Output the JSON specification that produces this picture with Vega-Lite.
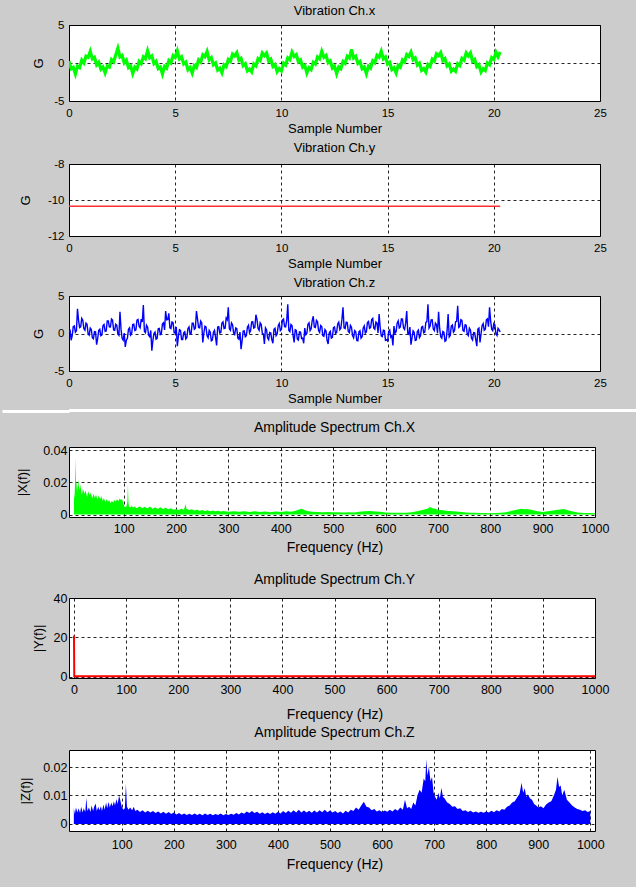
{
"$schema": "https://vega.github.io/schema/vega-lite/v6.json",
"background": "#cccccc",
"padding": {"left": 0, "top": 4, "right": 0, "bottom": 15},
"spacing": 0,
"config": {
 "font": "Liberation Sans",
 "locale": {"number": {"decimal": ".", "thousands": ",", "grouping": [3], "currency": ["$", ""], "minus": "-"}},
 "view": {"stroke": "#000000", "strokeWidth": 1, "fill": "#ffffff"},
 "axis": {"grid": true, "gridColor": "#000000", "gridDash": [3, 3], "gridWidth": 1, "gridOpacity": 0.85, "domain": false, "tickColor": "transparent", "labelColor": "#000000", "titleColor": "#000000", "labelFontSize": 11.5, "titleFontSize": 13, "titleFontWeight": "normal", "labelFlush": false, "labelOverlap": false, "titlePadding": 0},
 "axisX": {"titleBaseline": "top"},
 "axisY": {"titleBaseline": "middle", "titleAngle": -90, "titleAlign": "center"},
 "title": {"fontWeight": "normal", "color": "#000000", "frame": "group"}
},
"datasets": {
 "vx": [{"t":0.0,"g":0.24},{"t":0.1,"g":-0.76},{"t":0.2,"g":-0.57},{"t":0.3,"g":-1.46},{"t":0.4,"g":-0.41},{"t":0.5,"g":-0.61},{"t":0.6,"g":0.39},{"t":0.7,"g":0.0},{"t":0.8,"g":0.9},{"t":0.9,"g":0.75},{"t":1.0,"g":1.54},{"t":1.1,"g":0.54},{"t":1.2,"g":0.74},{"t":1.3,"g":-0.26},{"t":1.4,"g":0.08},{"t":1.5,"g":-0.82},{"t":1.6,"g":-0.52},{"t":1.7,"g":-1.31},{"t":1.8,"g":-0.41},{"t":1.9,"g":-0.55},{"t":2.0,"g":0.45},{"t":2.1,"g":0.15},{"t":2.2,"g":1.06},{"t":2.3,"g":1.95},{"t":2.4,"g":0.79},{"t":2.5,"g":0.99},{"t":2.6,"g":0.03},{"t":2.7,"g":0.38},{"t":2.8,"g":-0.62},{"t":2.9,"g":-0.38},{"t":3.0,"g":-1.38},{"t":3.1,"g":-0.55},{"t":3.2,"g":-0.8},{"t":3.3,"g":0.2},{"t":3.4,"g":-0.09},{"t":3.5,"g":0.81},{"t":3.6,"g":0.56},{"t":3.7,"g":1.62},{"t":3.8,"g":0.68},{"t":3.9,"g":0.93},{"t":4.0,"g":-0.07},{"t":4.1,"g":0.22},{"t":4.2,"g":-0.73},{"t":4.3,"g":-0.53},{"t":4.4,"g":-1.45},{"t":4.5,"g":-0.45},{"t":4.6,"g":-0.69},{"t":4.7,"g":0.31},{"t":4.8,"g":0.01},{"t":4.9,"g":0.97},{"t":5.0,"g":0.72},{"t":5.1,"g":1.58},{"t":5.2,"g":0.53},{"t":5.3,"g":0.82},{"t":5.4,"g":-0.13},{"t":5.5,"g":0.12},{"t":5.6,"g":-0.89},{"t":5.7,"g":-0.59},{"t":5.8,"g":-1.34},{"t":5.9,"g":-0.34},{"t":6.0,"g":-0.59},{"t":6.1,"g":0.41},{"t":6.2,"g":0.12},{"t":6.3,"g":1.07},{"t":6.4,"g":0.82},{"t":6.5,"g":1.52},{"t":6.6,"g":0.42},{"t":6.7,"g":0.72},{"t":6.8,"g":-0.24},{"t":6.9,"g":0.01},{"t":7.0,"g":-0.94},{"t":7.1,"g":-0.69},{"t":7.2,"g":-1.29},{"t":7.3,"g":-0.24},{"t":7.4,"g":-0.48},{"t":7.5,"g":0.47},{"t":7.6,"g":0.22},{"t":7.7,"g":1.18},{"t":7.8,"g":0.93},{"t":7.9,"g":1.37},{"t":8.0,"g":0.37},{"t":8.1,"g":0.61},{"t":8.2,"g":-0.34},{"t":8.3,"g":-0.09},{"t":8.4,"g":-1.05},{"t":8.5,"g":-0.8},{"t":8.6,"g":-1.18},{"t":8.7,"g":-0.13},{"t":8.8,"g":-0.38},{"t":8.9,"g":0.58},{"t":9.0,"g":0.33},{"t":9.1,"g":1.33},{"t":9.2,"g":0.97},{"t":9.3,"g":1.31},{"t":9.4,"g":0.26},{"t":9.5,"g":0.51},{"t":9.6,"g":-0.45},{"t":9.7,"g":-0.2},{"t":9.8,"g":-1.15},{"t":9.9,"g":-0.73},{"t":10.0,"g":-1.03},{"t":10.1,"g":-0.02},{"t":10.2,"g":-0.27},{"t":10.3,"g":0.68},{"t":10.4,"g":0.44},{"t":10.5,"g":1.44},{"t":10.6,"g":0.86},{"t":10.7,"g":1.11},{"t":10.8,"g":0.15},{"t":10.9,"g":0.4},{"t":11.0,"g":-0.55},{"t":11.1,"g":-0.31},{"t":11.2,"g":-1.31},{"t":11.3,"g":-0.62},{"t":11.4,"g":-0.87},{"t":11.5,"g":0.08},{"t":11.6,"g":-0.16},{"t":11.7,"g":0.79},{"t":11.8,"g":0.54},{"t":11.9,"g":1.54},{"t":12.0,"g":0.75},{"t":12.1,"g":1.0},{"t":12.2,"g":0.05},{"t":12.3,"g":0.29},{"t":12.4,"g":-0.66},{"t":12.5,"g":-0.41},{"t":12.6,"g":-1.41},{"t":12.7,"g":-0.52},{"t":12.8,"g":-0.76},{"t":12.9,"g":0.19},{"t":13.0,"g":-0.06},{"t":13.1,"g":0.89},{"t":13.2,"g":0.65},{"t":13.3,"g":1.8},{"t":13.4,"g":0.65},{"t":13.5,"g":0.89},{"t":13.6,"g":-0.06},{"t":13.7,"g":0.19},{"t":13.8,"g":-0.76},{"t":13.9,"g":-0.52},{"t":14.0,"g":-1.41},{"t":14.1,"g":-0.41},{"t":14.2,"g":-0.66},{"t":14.3,"g":0.29},{"t":14.4,"g":0.05},{"t":14.5,"g":1.0},{"t":14.6,"g":0.75},{"t":14.7,"g":1.54},{"t":14.8,"g":0.54},{"t":14.9,"g":0.79},{"t":15.0,"g":-0.16},{"t":15.1,"g":0.08},{"t":15.2,"g":-0.87},{"t":15.3,"g":-0.62},{"t":15.4,"g":-1.31},{"t":15.5,"g":-0.31},{"t":15.6,"g":-0.55},{"t":15.7,"g":0.4},{"t":15.8,"g":0.15},{"t":15.9,"g":1.11},{"t":16.0,"g":0.86},{"t":16.1,"g":1.44},{"t":16.2,"g":0.44},{"t":16.3,"g":0.68},{"t":16.4,"g":-0.27},{"t":16.5,"g":-0.02},{"t":16.6,"g":-0.98},{"t":16.7,"g":-0.73},{"t":16.8,"g":-1.2},{"t":16.9,"g":-0.2},{"t":17.0,"g":-0.45},{"t":17.1,"g":0.51},{"t":17.2,"g":0.26},{"t":17.3,"g":1.21},{"t":17.4,"g":0.97},{"t":17.5,"g":1.38},{"t":17.6,"g":0.33},{"t":17.7,"g":0.58},{"t":17.8,"g":-0.38},{"t":17.9,"g":-0.13},{"t":18.0,"g":-1.08},{"t":18.1,"g":-0.8},{"t":18.2,"g":-1.1},{"t":18.3,"g":-0.09},{"t":18.4,"g":-0.34},{"t":18.5,"g":0.61},{"t":18.6,"g":0.37},{"t":18.7,"g":1.32},{"t":18.8,"g":0.93},{"t":18.9,"g":1.33},{"t":19.0,"g":0.22},{"t":19.1,"g":0.47},{"t":19.2,"g":-0.48},{"t":19.3,"g":-0.24},{"t":19.4,"g":-1.19},{"t":19.5,"g":-0.74},{"t":19.6,"g":-0.99},{"t":19.7,"g":0.01},{"t":19.8,"g":-0.24},{"t":19.9,"g":0.72},{"t":20.0,"g":0.47},{"t":20.1,"g":1.42},{"t":20.2,"g":0.82},{"t":20.3,"g":1.45}],
 "vy": [{"t":0,"g":-10.35},{"t":20.3,"g":-10.35}],
 "vz": [{"t":0.0,"g":0.12},{"t":0.1,"g":-0.9},{"t":0.2,"g":0.91},{"t":0.3,"g":0.16},{"t":0.4,"g":3.3},{"t":0.5,"g":0.79},{"t":0.6,"g":2.01},{"t":0.7,"g":0.62},{"t":0.8,"g":1.38},{"t":0.9,"g":-0.07},{"t":1.0,"g":0.73},{"t":1.1,"g":-0.56},{"t":1.2,"g":0.25},{"t":1.3,"g":-1.5},{"t":1.4,"g":0.41},{"t":1.5,"g":-0.29},{"t":1.6,"g":1.05},{"t":1.7,"g":0.29},{"t":1.8,"g":1.69},{"t":1.9,"g":0.88},{"t":2.0,"g":1.93},{"t":2.1,"g":0.48},{"t":2.2,"g":1.23},{"t":2.3,"g":-0.06},{"t":2.4,"g":2.9},{"t":2.5,"g":-0.65},{"t":2.6,"g":0.06},{"t":2.7,"g":-0.89},{"t":2.8,"g":0.55},{"t":2.9,"g":-0.21},{"t":3.0,"g":1.19},{"t":3.1,"g":0.38},{"t":3.2,"g":1.78},{"t":3.3,"g":0.98},{"t":3.4,"g":1.93},{"t":3.5,"g":3.8},{"t":3.6,"g":0.1},{"t":3.7,"g":0.85},{"t":3.8,"g":-0.44},{"t":3.9,"g":-2.3},{"t":4.0,"g":0.0},{"t":4.1,"g":-0.76},{"t":4.2,"g":0.64},{"t":4.3,"g":-0.12},{"t":4.4,"g":1.28},{"t":4.5,"g":0.47},{"t":4.6,"g":1.82},{"t":4.7,"g":2.7},{"t":4.8,"g":0.65},{"t":4.9,"g":1.45},{"t":5.0,"g":0.06},{"t":5.1,"g":-1.7},{"t":5.2,"g":0.52},{"t":5.3,"g":-0.82},{"t":5.4,"g":0.09},{"t":5.5,"g":-0.72},{"t":5.6,"g":0.68},{"t":5.7,"g":-0.08},{"t":5.8,"g":1.37},{"t":5.9,"g":0.56},{"t":6.0,"g":3.0},{"t":6.1,"g":0.8},{"t":6.2,"g":1.66},{"t":6.3,"g":-1.2},{"t":6.4,"g":0.97},{"t":6.5,"g":-0.32},{"t":6.6,"g":0.43},{"t":6.7,"g":-0.96},{"t":6.8,"g":0.18},{"t":6.9,"g":-0.53},{"t":7.0,"g":0.87},{"t":7.1,"g":0.06},{"t":7.2,"g":1.4},{"t":7.3,"g":0.65},{"t":7.4,"g":2.04},{"t":7.5,"g":3.5},{"t":7.6,"g":0.42},{"t":7.7,"g":1.18},{"t":7.8,"g":-0.12},{"t":7.9,"g":0.64},{"t":8.0,"g":-0.76},{"t":8.1,"g":-2.1},{"t":8.2,"g":0.32},{"t":8.3,"g":-0.44},{"t":8.4,"g":0.85},{"t":8.5,"g":0.1},{"t":8.6,"g":1.54},{"t":8.7,"g":0.73},{"t":8.8,"g":2.5},{"t":8.9,"g":0.68},{"t":9.0,"g":1.43},{"t":9.1,"g":0.04},{"t":9.2,"g":-1.4},{"t":9.3,"g":0.5},{"t":9.4,"g":-0.84},{"t":9.5,"g":0.06},{"t":9.6,"g":-1.3},{"t":9.7,"g":0.7},{"t":9.8,"g":-0.06},{"t":9.9,"g":1.33},{"t":10.0,"g":0.53},{"t":10.1,"g":1.93},{"t":10.2,"g":0.88},{"t":10.3,"g":3.9},{"t":10.4,"g":0.24},{"t":10.5,"g":1.05},{"t":10.6,"g":-1.2},{"t":10.7,"g":0.41},{"t":10.8,"g":-0.88},{"t":10.9,"g":0.2},{"t":11.0,"g":-0.61},{"t":11.1,"g":0.73},{"t":11.2,"g":0.03},{"t":11.3,"g":1.43},{"t":11.4,"g":0.62},{"t":11.5,"g":2.3},{"t":11.6,"g":0.79},{"t":11.7,"g":1.55},{"t":11.8,"g":0.16},{"t":11.9,"g":0.91},{"t":12.0,"g":-0.38},{"t":12.1,"g":0.32},{"t":12.2,"g":-1.4},{"t":12.3,"g":0.28},{"t":12.4,"g":-0.52},{"t":12.5,"g":0.88},{"t":12.6,"g":0.12},{"t":12.7,"g":1.51},{"t":12.8,"g":0.71},{"t":12.9,"g":3.5},{"t":13.0,"g":0.66},{"t":13.1,"g":1.46},{"t":13.2,"g":0.12},{"t":13.3,"g":0.83},{"t":13.4,"g":-0.57},{"t":13.5,"g":0.23},{"t":13.6,"g":-0.97},{"t":13.7,"g":0.37},{"t":13.8,"g":-0.43},{"t":13.9,"g":1.01},{"t":14.0,"g":0.21},{"t":14.1,"g":1.6},{"t":14.2,"g":0.79},{"t":14.3,"g":2.01},{"t":14.4,"g":0.57},{"t":14.5,"g":1.38},{"t":14.6,"g":2.6},{"t":14.7,"g":-0.32},{"t":14.8,"g":0.44},{"t":14.9,"g":-0.9},{"t":15.0,"g":-1.0},{"t":15.1,"g":0.46},{"t":15.2,"g":-0.29},{"t":15.3,"g":1.0},{"t":15.4,"g":0.24},{"t":15.5,"g":1.69},{"t":15.6,"g":0.88},{"t":15.7,"g":1.93},{"t":15.8,"g":0.53},{"t":15.9,"g":3.0},{"t":16.0,"g":-0.11},{"t":16.1,"g":-1.5},{"t":16.2,"g":0.35},{"t":16.3,"g":-0.94},{"t":16.4,"g":0.26},{"t":16.5,"g":-0.55},{"t":16.6,"g":0.84},{"t":16.7,"g":0.09},{"t":16.8,"g":1.48},{"t":16.9,"g":3.9},{"t":17.0,"g":0.98},{"t":17.1,"g":1.83},{"t":17.2,"g":0.39},{"t":17.3,"g":1.2},{"t":17.4,"g":2.9},{"t":17.5,"g":-0.44},{"t":17.6,"g":0.27},{"t":17.7,"g":-1.05},{"t":17.8,"g":0.34},{"t":17.9,"g":-0.46},{"t":18.0,"g":0.98},{"t":18.1,"g":0.18},{"t":18.2,"g":1.57},{"t":18.3,"g":3.7},{"t":18.4,"g":0.94},{"t":18.5,"g":1.75},{"t":18.6,"g":0.3},{"t":18.7,"g":1.11},{"t":18.8,"g":-0.28},{"t":18.9,"g":0.47},{"t":19.0,"g":-0.87},{"t":19.1,"g":0.09},{"t":19.2,"g":-1.7},{"t":19.3,"g":0.73},{"t":19.4,"g":-0.03},{"t":19.5,"g":1.32},{"t":19.6,"g":0.56},{"t":19.7,"g":1.95},{"t":19.8,"g":3.5},{"t":19.9,"g":0.56},{"t":20.0,"g":1.32},{"t":20.1,"g":-0.03},{"t":20.2,"g":0.68},{"t":20.3,"g":0.2},
  {"t":0.05,"g":0.52},{"t":0.15,"g":-0.33},{"t":0.25,"g":1.01},{"t":0.35,"g":0.36},{"t":0.45,"g":1.75},{"t":0.55,"g":0.9},{"t":0.65,"g":1.77},{"t":0.75,"g":0.43},{"t":0.85,"g":1.23},{"t":0.95,"g":-0.22},{"t":1.05,"g":0.54},{"t":1.15,"g":-0.71},{"t":1.25,"g":0.23},{"t":1.35,"g":-0.69},{"t":1.45,"g":0.56},{"t":1.55,"g":-0.19},{"t":1.65,"g":1.2},{"t":1.75,"g":0.34},{"t":1.85,"g":1.69},{"t":1.95,"g":0.86},{"t":2.05,"g":1.78},{"t":2.15,"g":0.43},{"t":2.25,"g":1.09},{"t":2.35,"g":-0.25},{"t":2.45,"g":0.55},{"t":2.55,"g":-0.9},{"t":2.65,"g":-1.8},{"t":2.75,"g":-0.65},{"t":2.85,"g":0.75},{"t":2.95,"g":-0.01},{"t":3.05,"g":1.24},{"t":3.15,"g":0.48},{"t":3.25,"g":1.88},{"t":3.35,"g":0.76},{"t":3.45,"g":1.54},{"t":3.55,"g":0.3},{"t":3.65,"g":1.1},{"t":3.75,"g":-0.24},{"t":3.85,"g":0.41},{"t":3.95,"g":-0.92},{"t":4.05,"g":0.19},{"t":4.15,"g":-0.66},{"t":4.25,"g":0.69},{"t":4.35,"g":0.03},{"t":4.45,"g":1.43},{"t":4.55,"g":3.0},{"t":4.65,"g":1.86},{"t":4.75,"g":0.75},{"t":4.85,"g":1.55},{"t":4.95,"g":0.11},{"t":5.05,"g":0.87},{"t":5.15,"g":-0.38},{"t":5.25,"g":0.42},{"t":5.35,"g":-0.82},{"t":5.45,"g":0.23},{"t":5.55,"g":-0.52},{"t":5.65,"g":0.88},{"t":5.75,"g":0.02},{"t":5.85,"g":1.37},{"t":5.95,"g":0.71},{"t":6.05,"g":1.95},{"t":6.15,"g":0.76},{"t":6.25,"g":1.42},{"t":6.35,"g":0.07},{"t":6.45,"g":0.88},{"t":6.55,"g":-0.57},{"t":6.65,"g":0.18},{"t":6.75,"g":-0.87},{"t":6.85,"g":0.42},{"t":6.95,"g":-1.6},{"t":7.05,"g":0.92},{"t":7.15,"g":0.16},{"t":7.25,"g":1.55},{"t":7.35,"g":0.7},{"t":7.45,"g":1.81},{"t":7.55,"g":0.62},{"t":7.65,"g":1.43},{"t":7.75,"g":0.08},{"t":7.85,"g":0.74},{"t":7.95,"g":-0.61},{"t":8.05,"g":0.19},{"t":8.15,"g":-0.97},{"t":8.25,"g":0.36},{"t":8.35,"g":-0.29},{"t":8.45,"g":1.1},{"t":8.55,"g":0.35},{"t":8.65,"g":1.59},{"t":8.75,"g":0.81},{"t":8.85,"g":1.88},{"t":8.95,"g":0.43},{"t":9.05,"g":1.19},{"t":9.15,"g":-0.06},{"t":9.25,"g":0.75},{"t":9.35,"g":-0.6},{"t":9.45,"g":0.13},{"t":9.55,"g":-0.85},{"t":9.65,"g":0.55},{"t":9.75,"g":-0.3},{"t":9.85,"g":1.04},{"t":9.95,"g":0.38},{"t":10.05,"g":1.78},{"t":10.15,"g":0.91},{"t":10.25,"g":1.74},{"t":10.35,"g":0.39},{"t":10.45,"g":1.2},{"t":10.55,"g":-0.24},{"t":10.65,"g":0.51},{"t":10.75,"g":-0.74},{"t":10.85,"g":0.23},{"t":10.95,"g":-0.66},{"t":11.05,"g":-1.3},{"t":11.15,"g":-0.17},{"t":11.25,"g":1.23},{"t":11.35,"g":0.38},{"t":11.45,"g":1.72},{"t":11.55,"g":0.85},{"t":11.65,"g":1.75},{"t":11.75,"g":0.41},{"t":11.85,"g":1.06},{"t":11.95,"g":-0.28},{"t":12.05,"g":0.52},{"t":12.15,"g":-0.93},{"t":12.25,"g":0.08},{"t":12.35,"g":-0.62},{"t":12.45,"g":0.78},{"t":12.55,"g":0.03},{"t":12.65,"g":1.27},{"t":12.75,"g":0.51},{"t":12.85,"g":1.91},{"t":12.95,"g":0.76},{"t":13.05,"g":1.51},{"t":13.15,"g":0.27},{"t":13.25,"g":1.08},{"t":13.35,"g":-0.27},{"t":13.45,"g":0.38},{"t":13.55,"g":-0.92},{"t":13.65,"g":0.22},{"t":13.75,"g":-0.63},{"t":13.85,"g":0.72},{"t":13.95,"g":0.06},{"t":14.05,"g":1.46},{"t":14.15,"g":0.7},{"t":14.25,"g":1.85},{"t":14.35,"g":0.72},{"t":14.45,"g":1.53},{"t":14.55,"g":0.08},{"t":14.65,"g":0.83},{"t":14.75,"g":-0.41},{"t":14.85,"g":0.39},{"t":14.95,"g":-0.82},{"t":15.05,"g":0.26},{"t":15.15,"g":-0.49},{"t":15.25,"g":-1.6},{"t":15.35,"g":0.05},{"t":15.45,"g":1.39},{"t":15.55,"g":0.74},{"t":15.65,"g":1.96},{"t":15.75,"g":0.73},{"t":15.85,"g":1.38},{"t":15.95,"g":0.04},{"t":16.05,"g":0.85},{"t":16.15,"g":-0.6},{"t":16.25,"g":0.15},{"t":16.35,"g":-0.87},{"t":16.45,"g":0.45},{"t":16.55,"g":-0.3},{"t":16.65,"g":0.94},{"t":16.75,"g":0.19},{"t":16.85,"g":1.58},{"t":16.95,"g":0.73},{"t":17.05,"g":1.81},{"t":17.15,"g":0.59},{"t":17.25,"g":1.4},{"t":17.35,"g":0.05},{"t":17.45,"g":0.71},{"t":17.55,"g":-0.64},{"t":17.65,"g":0.18},{"t":17.75,"g":-0.96},{"t":17.85,"g":2.6},{"t":17.95,"g":-0.26},{"t":18.05,"g":1.13},{"t":18.15,"g":0.38},{"t":18.25,"g":1.62},{"t":18.35,"g":0.81},{"t":18.45,"g":1.85},{"t":18.55,"g":0.4},{"t":18.65,"g":1.16},{"t":18.75,"g":-0.08},{"t":18.85,"g":0.72},{"t":18.95,"g":-0.63},{"t":19.05,"g":0.13},{"t":19.15,"g":-0.82},{"t":19.25,"g":0.58},{"t":19.35,"g":-1.2},{"t":19.45,"g":1.07},{"t":19.55,"g":0.42},{"t":19.65,"g":1.81},{"t":19.75,"g":0.9},{"t":19.85,"g":1.71},{"t":19.95,"g":0.37},{"t":20.05,"g":1.17},{"t":20.15,"g":-0.27},{"t":20.25,"g":0.48}],
 "sx": [{"f":5,"a":0.0125},{"f":6,"a":0.01},{"f":7,"a":0.02},{"f":8,"a":0.0352},{"f":9,"a":0.015},{"f":10,"a":0.021},{"f":12,"a":0.014},{"f":13,"a":0.022},{"f":15,"a":0.015},{"f":17,"a":0.0185},{"f":20,"a":0.012},{"f":22,"a":0.016},{"f":25,"a":0.013},{"f":27,"a":0.015},{"f":30,"a":0.011},{"f":32,"a":0.0145},{"f":35,"a":0.012},{"f":37,"a":0.0135},{"f":40,"a":0.01},{"f":42,"a":0.013},{"f":45,"a":0.0105},{"f":47,"a":0.0125},{"f":50,"a":0.009},{"f":52,"a":0.012},{"f":55,"a":0.0095},{"f":57,"a":0.0115},{"f":60,"a":0.0085},{"f":62,"a":0.0105},{"f":65,"a":0.0075},{"f":67,"a":0.0095},{"f":70,"a":0.008},{"f":72,"a":0.009},{"f":75,"a":0.007},{"f":77,"a":0.0085},{"f":80,"a":0.0075},{"f":82,"a":0.009},{"f":85,"a":0.008},{"f":87,"a":0.0095},{"f":90,"a":0.0085},{"f":92,"a":0.01},{"f":95,"a":0.009},{"f":97,"a":0.0095},{"f":100,"a":0.006},{"f":102,"a":0.0045},{"f":105,"a":0.005},{"f":107,"a":0.008},{"f":108,"a":0.019},{"f":109,"a":0.008},{"f":110,"a":0.005},{"f":113,"a":0.0045},{"f":115,"a":0.0055},{"f":118,"a":0.0042},{"f":120,"a":0.005},{"f":125,"a":0.004},{"f":130,"a":0.0052},{"f":135,"a":0.004},{"f":140,"a":0.0048},{"f":145,"a":0.0038},{"f":150,"a":0.005},{"f":155,"a":0.0037},{"f":160,"a":0.0045},{"f":165,"a":0.0035},{"f":170,"a":0.0046},{"f":175,"a":0.0034},{"f":180,"a":0.0042},{"f":185,"a":0.0033},{"f":190,"a":0.004},{"f":195,"a":0.003},{"f":200,"a":0.0035},{"f":205,"a":0.0028},{"f":210,"a":0.0036},{"f":215,"a":0.003},{"f":218,"a":0.0065},{"f":220,"a":0.0035},{"f":225,"a":0.0028},{"f":230,"a":0.0033},{"f":235,"a":0.0025},{"f":240,"a":0.003},{"f":245,"a":0.0024},{"f":250,"a":0.0029},{"f":255,"a":0.0022},{"f":260,"a":0.0027},{"f":265,"a":0.0021},{"f":270,"a":0.0026},{"f":275,"a":0.002},{"f":280,"a":0.0024},{"f":285,"a":0.0019},{"f":290,"a":0.0023},{"f":300,"a":0.0018},{"f":310,"a":0.0021},{"f":320,"a":0.0017},{"f":330,"a":0.002},{"f":340,"a":0.0016},{"f":350,"a":0.002},{"f":360,"a":0.0016},{"f":370,"a":0.0019},{"f":380,"a":0.0015},{"f":390,"a":0.0019},{"f":400,"a":0.0016},{"f":410,"a":0.002},{"f":420,"a":0.0018},{"f":430,"a":0.0026},{"f":435,"a":0.0032},{"f":440,"a":0.0037},{"f":445,"a":0.0028},{"f":450,"a":0.0022},{"f":460,"a":0.0017},{"f":470,"a":0.0016},{"f":480,"a":0.0015},{"f":490,"a":0.0016},{"f":500,"a":0.0014},{"f":510,"a":0.0015},{"f":520,"a":0.0013},{"f":530,"a":0.0014},{"f":540,"a":0.0013},{"f":550,"a":0.0017},{"f":560,"a":0.002},{"f":570,"a":0.0022},{"f":580,"a":0.0019},{"f":590,"a":0.0018},{"f":600,"a":0.0013},{"f":610,"a":0.0012},{"f":620,"a":0.0011},{"f":630,"a":0.0012},{"f":640,"a":0.0012},{"f":650,"a":0.0015},{"f":660,"a":0.002},{"f":670,"a":0.0028},{"f":680,"a":0.0037},{"f":685,"a":0.0047},{"f":690,"a":0.004},{"f":695,"a":0.0036},{"f":700,"a":0.003},{"f":710,"a":0.0027},{"f":720,"a":0.0022},{"f":730,"a":0.002},{"f":740,"a":0.0017},{"f":750,"a":0.0014},{"f":760,"a":0.0012},{"f":770,"a":0.0011},{"f":780,"a":0.001},{"f":790,"a":0.001},{"f":800,"a":0.0009},{"f":810,"a":0.001},{"f":820,"a":0.0012},{"f":830,"a":0.0015},{"f":840,"a":0.0022},{"f":850,"a":0.003},{"f":860,"a":0.0036},{"f":865,"a":0.0033},{"f":870,"a":0.0035},{"f":880,"a":0.0028},{"f":890,"a":0.002},{"f":900,"a":0.0016},{"f":910,"a":0.002},{"f":920,"a":0.0025},{"f":930,"a":0.003},{"f":940,"a":0.0035},{"f":945,"a":0.003},{"f":950,"a":0.0026},{"f":960,"a":0.0018},{"f":970,"a":0.0012},{"f":980,"a":0.001},{"f":990,"a":0.001},{"f":1000,"a":0.0009}],
 "sy": [{"f":0,"a":21},{"f":0.5,"a":0.25},{"f":500,"a":0.25},{"f":1000,"a":0.25}],
 "sz": [{"f":8,"a":0.0055},{"f":10,"a":0.0035},{"f":12,"a":0.0058},{"f":15,"a":0.004},{"f":17,"a":0.0055},{"f":20,"a":0.0038},{"f":22,"a":0.006},{"f":25,"a":0.004},{"f":27,"a":0.0055},{"f":30,"a":0.0042},{"f":32,"a":0.0092},{"f":34,"a":0.0045},{"f":37,"a":0.0058},{"f":40,"a":0.0042},{"f":42,"a":0.0065},{"f":45,"a":0.0045},{"f":47,"a":0.006},{"f":50,"a":0.0072},{"f":52,"a":0.0045},{"f":55,"a":0.006},{"f":57,"a":0.0048},{"f":60,"a":0.0062},{"f":62,"a":0.0045},{"f":65,"a":0.0068},{"f":67,"a":0.005},{"f":70,"a":0.0075},{"f":72,"a":0.0055},{"f":75,"a":0.0078},{"f":77,"a":0.0058},{"f":80,"a":0.0075},{"f":82,"a":0.0062},{"f":85,"a":0.008},{"f":87,"a":0.0065},{"f":90,"a":0.0088},{"f":92,"a":0.007},{"f":95,"a":0.01},{"f":97,"a":0.0085},{"f":100,"a":0.006},{"f":103,"a":0.005},{"f":106,"a":0.0055},{"f":108,"a":0.014},{"f":110,"a":0.006},{"f":113,"a":0.005},{"f":116,"a":0.0058},{"f":120,"a":0.0048},{"f":123,"a":0.006},{"f":126,"a":0.0045},{"f":130,"a":0.005},{"f":135,"a":0.0042},{"f":140,"a":0.0048},{"f":145,"a":0.004},{"f":150,"a":0.0046},{"f":155,"a":0.004},{"f":160,"a":0.0045},{"f":165,"a":0.0038},{"f":170,"a":0.0044},{"f":175,"a":0.0037},{"f":180,"a":0.0043},{"f":185,"a":0.0036},{"f":190,"a":0.0042},{"f":195,"a":0.0035},{"f":200,"a":0.004},{"f":205,"a":0.0033},{"f":210,"a":0.0038},{"f":215,"a":0.0032},{"f":220,"a":0.0037},{"f":225,"a":0.0031},{"f":230,"a":0.0036},{"f":235,"a":0.0031},{"f":240,"a":0.0037},{"f":245,"a":0.0031},{"f":250,"a":0.0036},{"f":255,"a":0.003},{"f":260,"a":0.0037},{"f":265,"a":0.0031},{"f":270,"a":0.0036},{"f":275,"a":0.003},{"f":280,"a":0.0035},{"f":285,"a":0.0031},{"f":290,"a":0.0037},{"f":295,"a":0.003},{"f":300,"a":0.0035},{"f":305,"a":0.0031},{"f":310,"a":0.0036},{"f":315,"a":0.0032},{"f":320,"a":0.0038},{"f":325,"a":0.0033},{"f":330,"a":0.004},{"f":335,"a":0.0036},{"f":340,"a":0.0044},{"f":345,"a":0.0038},{"f":350,"a":0.0045},{"f":355,"a":0.0038},{"f":360,"a":0.0043},{"f":365,"a":0.0036},{"f":370,"a":0.0041},{"f":375,"a":0.0035},{"f":380,"a":0.004},{"f":385,"a":0.0035},{"f":390,"a":0.0041},{"f":395,"a":0.0036},{"f":400,"a":0.0043},{"f":405,"a":0.0037},{"f":410,"a":0.0045},{"f":415,"a":0.0038},{"f":420,"a":0.0046},{"f":425,"a":0.0039},{"f":430,"a":0.0048},{"f":435,"a":0.004},{"f":440,"a":0.005},{"f":445,"a":0.004},{"f":450,"a":0.0047},{"f":455,"a":0.004},{"f":460,"a":0.0046},{"f":465,"a":0.0039},{"f":470,"a":0.0047},{"f":475,"a":0.004},{"f":480,"a":0.0048},{"f":485,"a":0.0041},{"f":490,"a":0.005},{"f":495,"a":0.0041},{"f":500,"a":0.0047},{"f":505,"a":0.004},{"f":510,"a":0.0045},{"f":515,"a":0.0038},{"f":520,"a":0.0044},{"f":525,"a":0.0037},{"f":530,"a":0.0046},{"f":535,"a":0.004},{"f":540,"a":0.005},{"f":545,"a":0.0045},{"f":550,"a":0.0058},{"f":555,"a":0.005},{"f":560,"a":0.0065},{"f":565,"a":0.0078},{"f":570,"a":0.006},{"f":575,"a":0.0058},{"f":580,"a":0.0048},{"f":585,"a":0.0052},{"f":590,"a":0.0044},{"f":595,"a":0.0048},{"f":600,"a":0.0042},{"f":605,"a":0.0047},{"f":610,"a":0.0043},{"f":615,"a":0.005},{"f":620,"a":0.0044},{"f":625,"a":0.0052},{"f":630,"a":0.0046},{"f":635,"a":0.0058},{"f":640,"a":0.005},{"f":644,"a":0.0085},{"f":648,"a":0.0055},{"f":652,"a":0.006},{"f":656,"a":0.0052},{"f":660,"a":0.0075},{"f":664,"a":0.0065},{"f":668,"a":0.01},{"f":672,"a":0.012},{"f":676,"a":0.011},{"f":680,"a":0.016},{"f":683,"a":0.015},{"f":685,"a":0.0228},{"f":687,"a":0.017},{"f":690,"a":0.02},{"f":693,"a":0.015},{"f":696,"a":0.0165},{"f":699,"a":0.011},{"f":702,"a":0.0095},{"f":705,"a":0.0085},{"f":708,"a":0.011},{"f":711,"a":0.009},{"f":714,"a":0.0127},{"f":717,"a":0.0095},{"f":720,"a":0.009},{"f":725,"a":0.0075},{"f":730,"a":0.007},{"f":735,"a":0.006},{"f":740,"a":0.0062},{"f":745,"a":0.0052},{"f":750,"a":0.0055},{"f":755,"a":0.0045},{"f":760,"a":0.0048},{"f":765,"a":0.0042},{"f":770,"a":0.0046},{"f":775,"a":0.004},{"f":780,"a":0.0044},{"f":785,"a":0.0039},{"f":790,"a":0.0043},{"f":795,"a":0.0039},{"f":800,"a":0.0044},{"f":805,"a":0.004},{"f":810,"a":0.0046},{"f":815,"a":0.0041},{"f":820,"a":0.0048},{"f":825,"a":0.0044},{"f":830,"a":0.0052},{"f":835,"a":0.005},{"f":840,"a":0.006},{"f":845,"a":0.0065},{"f":850,"a":0.0075},{"f":855,"a":0.008},{"f":860,"a":0.0095},{"f":864,"a":0.0105},{"f":868,"a":0.0145},{"f":871,"a":0.011},{"f":874,"a":0.0125},{"f":877,"a":0.0095},{"f":880,"a":0.0104},{"f":884,"a":0.009},{"f":888,"a":0.0085},{"f":892,"a":0.007},{"f":896,"a":0.0065},{"f":900,"a":0.0058},{"f":905,"a":0.0062},{"f":910,"a":0.0055},{"f":915,"a":0.0068},{"f":920,"a":0.0075},{"f":925,"a":0.008},{"f":930,"a":0.01},{"f":934,"a":0.012},{"f":937,"a":0.0166},{"f":940,"a":0.013},{"f":943,"a":0.0135},{"f":946,"a":0.01},{"f":950,"a":0.012},{"f":955,"a":0.0085},{"f":960,"a":0.0075},{"f":965,"a":0.0065},{"f":970,"a":0.0058},{"f":975,"a":0.0052},{"f":980,"a":0.005},{"f":985,"a":0.0045},{"f":990,"a":0.0048},{"f":995,"a":0.0042},{"f":1000,"a":0.0045}]
},
"vconcat": [
 {
  "width": 531, "height": 76,
  "title": {"text": "Vibration Ch.x", "fontSize": 13, "offset": 1},
  "data": {"name": "vx"},
  "mark": {"type": "line", "color": "#00ff00", "strokeWidth": 3.2, "clip": true},
  "encoding": {
   "x": {"field": "t", "type": "quantitative", "scale": {"domain": [0, 25], "nice": false, "zero": false},
         "axis": {"values": [0, 5, 10, 15, 20, 25], "format": "d", "title": "Sample Number", "tickSize": 38.5, "labelPadding": -32.5, "titleY": 21}},
   "y": {"field": "g", "type": "quantitative", "scale": {"domain": [-5, 5], "nice": false, "zero": false},
         "axis": {"values": [-5, 0, 5], "format": "d", "title": "G", "tickSize": 67, "labelPadding": -62, "titleX": -31}}
  }
 },
 {
  "width": 531, "height": 72,
  "title": {"text": "Vibration Ch.y", "fontSize": 13, "offset": 3.5},
  "data": {"name": "vy"},
  "mark": {"type": "line", "color": "#ff3030", "strokeWidth": 1.5, "clip": true},
  "encoding": {
   "x": {"field": "t", "type": "quantitative", "scale": {"domain": [0, 25], "nice": false, "zero": false},
         "axis": {"values": [0, 5, 10, 15, 20, 25], "format": "d", "title": "Sample Number", "tickSize": 38.5, "labelPadding": -32.5, "titleY": 21}},
   "y": {"field": "g", "type": "quantitative", "scale": {"domain": [-12, -8], "nice": false, "zero": false},
         "axis": {"values": [-12, -10, -8], "format": "d", "title": "G", "tickSize": 67, "labelPadding": -62, "titleX": -43.5}}
  }
 },
 {
  "width": 531, "height": 75,
  "title": {"text": "Vibration Ch.z", "fontSize": 13, "offset": 0.5},
  "data": {"name": "vz"},
  "mark": {"type": "line", "color": "#0000ff", "strokeWidth": 1.4, "clip": true},
  "encoding": {
   "x": {"field": "t", "type": "quantitative", "scale": {"domain": [0, 25], "nice": false, "zero": false},
         "axis": {"values": [0, 5, 10, 15, 20, 25], "format": "d", "title": "Sample Number", "tickSize": 37, "labelPadding": -31, "titleY": 21}},
   "y": {"field": "g", "type": "quantitative", "scale": {"domain": [-5, 5], "nice": false, "zero": false},
         "axis": {"values": [-5, 0, 5], "format": "d", "title": "G", "tickSize": 67, "labelPadding": -62, "titleX": -30.5}}
  }
 },
 {
  "width": 569, "height": 3,
  "view": {"fill": "#ffffff", "stroke": null},
  "data": {"values": [{"s": 1}]},
  "mark": {"type": "rule", "color": "#ffffff", "strokeWidth": 3},
  "encoding": {
   "y": {"datum": 0.5, "type": "quantitative", "scale": {"domain": [0, 1]},
         "axis": {"values": [0.5], "tickSize": 67, "tickColor": "#ffffff", "tickWidth": 3, "labels": false, "title": null, "grid": false, "domain": false}}
  }
 },
 {
  "width": 526, "height": 70,
  "title": {"text": ["", "Amplitude Spectrum Ch.X"], "fontSize": 14, "lineHeight": 7, "offset": 9, "dx": 2.5},
  "data": {"name": "sx"},
  "mark": {"type": "area", "color": "#00ff00", "clip": true},
  "encoding": {
   "x": {"field": "f", "type": "quantitative", "scale": {"domain": [-4.55, 1000], "nice": false, "zero": false},
         "axis": {"values": [100, 200, 300, 400, 500, 600, 700, 800, 900, 1000], "format": "d", "title": "Frequency (Hz)", "titleFontSize": 14, "titleX": 265.5, "labelFont": "Liberation Sans Narrow, Liberation Sans, sans-serif", "labelFontSize": 12.5, "tickSize": 53.3, "labelPadding": -47.8, "titleY": 23}},
   "y": {"field": "a", "type": "quantitative", "scale": {"domain": [-0.0015, 0.042], "nice": false, "zero": false},
         "axis": {"values": [0, 0.02, 0.04], "format": "~g", "title": "|X(f)|", "labelFont": "Liberation Sans Narrow, Liberation Sans, sans-serif", "labelFontSize": 12.5, "tickSize": 67, "labelPadding": -65, "titleX": -46.7}}
  }
 },
 {
  "width": 526, "height": 80,
  "title": {"text": "Amplitude Spectrum Ch.Y", "fontSize": 14, "offset": 4.7, "dx": 2.5},
  "data": {"name": "sy"},
  "mark": {"type": "line", "color": "#ff0000", "strokeWidth": 2, "clip": true},
  "encoding": {
   "x": {"field": "f", "type": "quantitative", "scale": {"domain": [-9.6, 1000], "nice": false, "zero": false},
         "axis": {"values": [0, 100, 200, 300, 400, 500, 600, 700, 800, 900, 1000], "format": "d", "title": "Frequency (Hz)", "titleFontSize": 14, "titleX": 265.5, "labelFont": "Liberation Sans Narrow, Liberation Sans, sans-serif", "labelFontSize": 12.5, "tickSize": 45.6, "labelPadding": -40.1, "titleY": 29}},
   "y": {"field": "a", "type": "quantitative", "scale": {"domain": [-0.6, 40], "nice": false, "zero": false},
         "axis": {"values": [0, 20, 40], "format": "d", "title": "|Y(f)|", "labelFont": "Liberation Sans Narrow, Liberation Sans, sans-serif", "labelFontSize": 12.5, "tickSize": 67, "labelPadding": -65, "titleX": -30.5}}
  }
 },
 {
  "width": 526, "height": 81,
  "title": {"text": "Amplitude Spectrum Ch.Z", "fontSize": 14, "offset": 10.4, "dx": 2.5},
  "data": {"name": "sz"},
  "mark": {"type": "area", "color": "#0000ff", "clip": true},
  "encoding": {
   "x": {"field": "f", "type": "quantitative", "scale": {"domain": [-1.3, 1009], "nice": false, "zero": false},
         "axis": {"values": [100, 200, 300, 400, 500, 600, 700, 800, 900, 1000], "format": "d", "title": "Frequency (Hz)", "titleFontSize": 14, "titleX": 265.5, "labelFont": "Liberation Sans Narrow, Liberation Sans, sans-serif", "labelFontSize": 12.5, "tickSize": 40, "labelPadding": -33, "titleY": 26}},
   "y": {"field": "a", "type": "quantitative", "scale": {"domain": [-0.0025, 0.026], "nice": false, "zero": false},
         "axis": {"values": [0, 0.01, 0.02], "format": "~g", "title": "|Z(f)|", "labelFont": "Liberation Sans Narrow, Liberation Sans, sans-serif", "labelFontSize": 12.5, "tickSize": 67, "labelPadding": -65, "titleX": -44}}
  }
 }
]
}
